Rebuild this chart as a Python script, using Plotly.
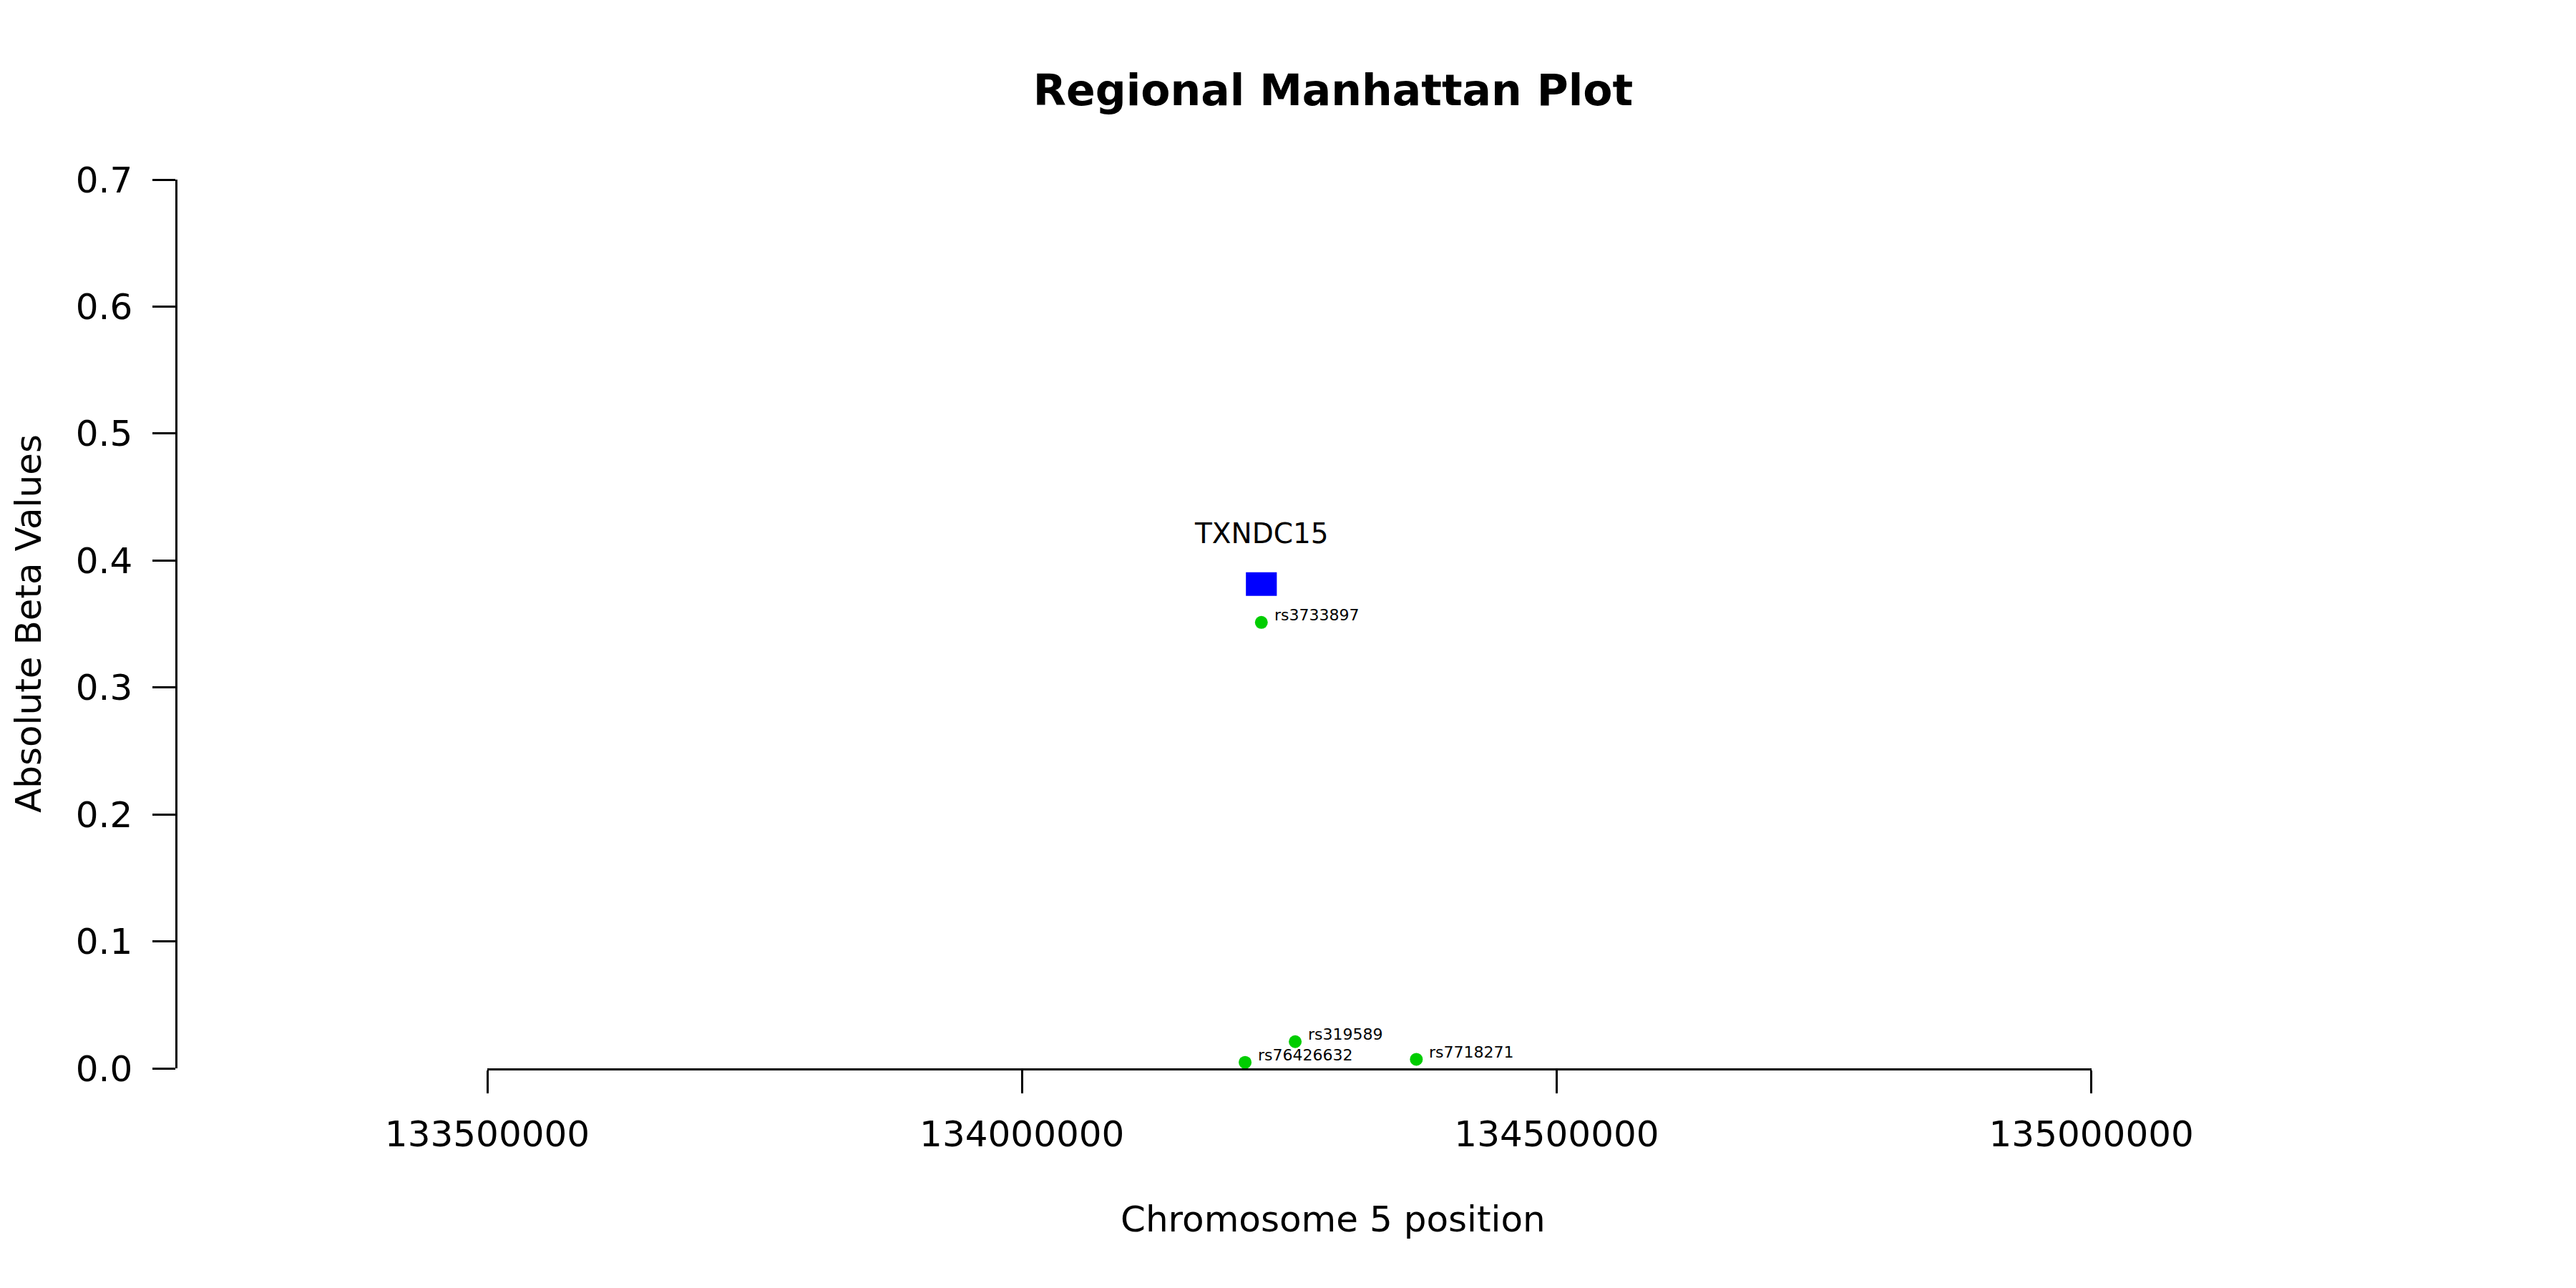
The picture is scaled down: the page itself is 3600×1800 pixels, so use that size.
import plotly.graph_objects as go

# ---- data ----
snp_ids = ["rs3733897", "rs76426632", "rs319589", "rs7718271"]
snp_pos = [134223830, 134208650, 134255490, 134368780]
snp_beta = [0.3512, 0.0047, 0.0210, 0.0071]

gene_names = ["TXNDC15"]
gene_start = [134209400]
gene_end = [134238300]
gene_beta = [0.3814]

x_ticks = [133500000, 134000000, 134500000, 135000000]
x_tick_labels = ["133500000", "134000000", "134500000", "135000000"]
y_ticks = [0.0, 0.1, 0.2, 0.3, 0.4, 0.5, 0.6, 0.7]

FONT = "DejaVu Sans"
OFF = 8  # page body margin
W, H = 3600 - 2 * OFF, 1800 - 2 * OFF
L = 246 - OFF
T = 251 - OFF
plot_bottom = 1493.3 - OFF
B = H - plot_bottom
R = W - (3480 - OFF)
plot_w = W - L - R
plot_h = plot_bottom - T
x_dom0 = (681 - OFF - L) / plot_w
x_dom1 = (2922.7 - OFF - L) / plot_w

fig = go.Figure()

# gene box
half_h = 0.0093
for name, s, e, b in zip(gene_names, gene_start, gene_end, gene_beta):
    fig.add_trace(go.Scatter(
        x=[s, e, e, s, s],
        y=[b - half_h, b - half_h, b + half_h, b + half_h, b - half_h],
        mode="lines", fill="toself", fillcolor="#0000FF",
        line=dict(color="#0000FF", width=0), hoverinfo="skip", showlegend=False,
    ))
    fig.add_annotation(x=(s + e) / 2, y=b + 0.04, xref="x", yref="y", text=name,
                       showarrow=False, font=dict(family=FONT, size=39, color="black"),
                       xanchor="center", yanchor="middle")

# SNP points
fig.add_trace(go.Scatter(
    x=snp_pos, y=snp_beta, mode="markers",
    marker=dict(color="#00CD00", size=18, line=dict(width=0)),
    showlegend=False,
))
for sid, p, b in zip(snp_ids, snp_pos, snp_beta):
    fig.add_annotation(x=p, y=b, xref="x", yref="y", text=sid, showarrow=False,
                       font=dict(family=FONT, size=22, color="black"),
                       xanchor="left", yanchor="middle", xshift=16, yshift=10)

# axis titles (centred on the plot region, R style)
fig.add_annotation(x=(40 - OFF - L) / plot_w, y=0.5, xref="paper", yref="paper",
                   text="Absolute Beta Values", textangle=-90, showarrow=False,
                   font=dict(family=FONT, size=50, color="black"),
                   xanchor="center", yanchor="middle")
fig.add_annotation(x=0.5, y=(plot_bottom - (1704 - OFF)) / plot_h, xref="paper", yref="paper",
                   text="Chromosome 5 position", showarrow=False,
                   font=dict(family=FONT, size=50, color="black"),
                   xanchor="center", yanchor="middle")

fig.update_layout(
    width=W, height=H,
    margin=dict(l=L, r=R, t=T, b=B, pad=0, autoexpand=False),
    paper_bgcolor="white", plot_bgcolor="white",
    font=dict(family=FONT, color="black"),
    title=dict(text="<b>Regional Manhattan Plot</b>", x=0.5, xref="paper",
               y=1 - (126 - OFF) / H, yref="container", xanchor="center", yanchor="middle",
               font=dict(family=FONT, size=60, color="black")),
    xaxis=dict(domain=[x_dom0, x_dom1], range=[x_ticks[0], x_ticks[-1]],
               tickvals=x_ticks, ticktext=x_tick_labels, automargin=False,
               ticks="outside", ticklen=32, tickwidth=2.5, tickcolor="black",
               showline=True, linecolor="black", linewidth=2.5,
               showgrid=False, zeroline=False, anchor="y",
               tickfont=dict(family=FONT, size=50, color="black"),
               ticklabelstandoff=14),
    yaxis=dict(domain=[0, 1], range=[0, 0.7], tickvals=y_ticks, tickformat=".1f",
               automargin=False,
               ticks="outside", ticklen=32, tickwidth=2.5, tickcolor="black",
               showline=True, linecolor="black", linewidth=2.5,
               showgrid=False, zeroline=False, anchor="free", position=0,
               tickfont=dict(family=FONT, size=50, color="black"),
               ticklabelstandoff=18),
)

fig.write_html("out.html")
